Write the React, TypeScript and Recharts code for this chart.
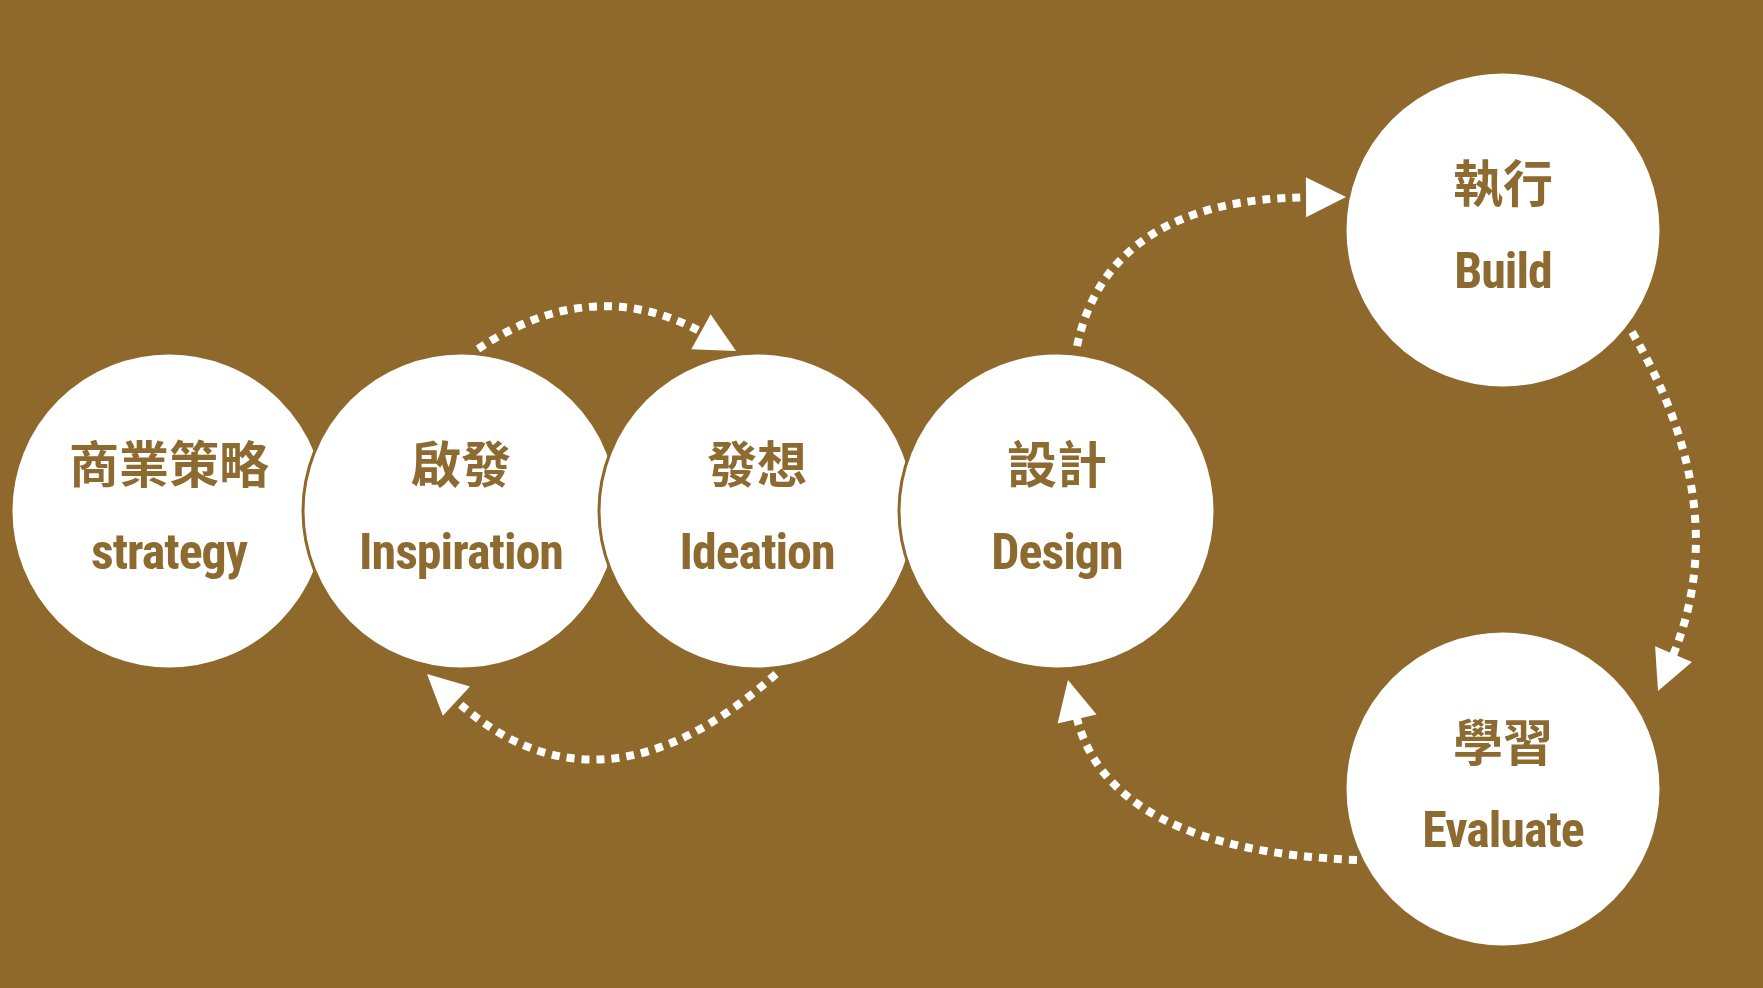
import { ScatterChart, Scatter, XAxis, YAxis } from "recharts";

const BG = "#8f692c";
const INK = "#8d6a2f";

// stage circles: centre in page pixels
const stageX = [169, 461, 757, 1057, 1503, 1503];
const stageY = [511, 511, 511, 511, 230, 789];
const stageZh = ["商業策略", "啟發", "發想", "設計", "執行", "學習"];
const stageEn = ["strategy", "Inspiration", "Ideation", "Design", "Build", "Evaluate"];

// dashed arrows: start, end and a point the curve passes through midway
const arrowFromX = [478, 776, 1077, 1632, 1357];
const arrowFromY = [349, 674, 346, 332, 860];
const arrowToX = [736, 427, 1346, 1658, 1068];
const arrowToY = [351, 674, 197, 691, 680];
const arrowMidX = [600, 600, 1160, 1690, 1160];
const arrowMidY = [311, 753, 235, 510, 810];

const stages = stageX.map((x, i) => ({ x, y: stageY[i], zh: stageZh[i], en: stageEn[i] }));
const arrows = arrowFromX.map((x, i) => ({
  x,
  y: arrowFromY[i],
  x2: arrowToX[i],
  y2: arrowToY[i],
  mx: arrowMidX[i],
  my: arrowMidY[i],
}));

const W = 1763;
const H = 988;

function StageShape(props: any) {
  const { cx, cy, payload } = props;
  return (
    <g>
      <circle cx={cx} cy={cy} r={158} fill="#fff" stroke={BG} strokeWidth={3} />
      <text
        x={cx}
        y={cy - 28}
        textAnchor="middle"
        fill={INK}
        fontSize={50}
        fontWeight={700}
        fontFamily="'Noto Sans CJK TC', sans-serif"
      >
        {payload.zh}
      </text>
      <text
        x={cx}
        y={cy + 58}
        textAnchor="middle"
        fill={INK}
        fontSize={50}
        fontWeight={700}
        fontFamily="'Liberation Sans Narrow', 'Roboto Condensed', sans-serif"
        letterSpacing={-1}
      >
        {payload.en}
      </text>
    </g>
  );
}

function ArrowShape(props: any) {
  const { cx, cy, payload } = props;
  // axes map data 1:1 to pixels, so offsets carry over directly
  const dx = cx - payload.x;
  const dy = cy - payload.y;
  const p0 = [cx, cy];
  const p2 = [payload.x2 + dx, payload.y2 + dy];
  const m = [payload.mx + dx, payload.my + dy];
  const c = [2 * m[0] - (p0[0] + p2[0]) / 2, 2 * m[1] - (p0[1] + p2[1]) / 2];
  let tx = p2[0] - c[0];
  let ty = p2[1] - c[1];
  const len = Math.hypot(tx, ty);
  tx /= len;
  ty /= len;
  const L = 40;
  const Wd = 20;
  const base = [p2[0] - tx * L, p2[1] - ty * L];
  const head = `M${p2[0]},${p2[1]} L${base[0] - ty * Wd},${base[1] + tx * Wd} L${base[0] + ty * Wd},${base[1] - tx * Wd} Z`;
  return (
    <g>
      <path
        d={`M${p0[0]},${p0[1]} Q${c[0]},${c[1]} ${base[0] + tx * 4},${base[1] + ty * 4}`}
        fill="none"
        stroke="#fff"
        strokeWidth={8}
        strokeDasharray="8 7"
      />
      <path d={head} fill="#fff" />
    </g>
  );
}

export default function App() {
  return (
    <div style={{ position: "fixed", left: 0, top: 0, width: W, height: H, background: BG }}>
      <ScatterChart width={W} height={H} margin={{ top: 0, right: 0, bottom: 0, left: 0 }}>
        <XAxis type="number" dataKey="x" domain={[0, W]} hide />
        <YAxis type="number" dataKey="y" domain={[0, H]} reversed hide />
        <Scatter data={arrows} shape={<ArrowShape />} isAnimationActive={false} />
        <Scatter data={stages} shape={<StageShape />} isAnimationActive={false} />
      </ScatterChart>
    </div>
  );
}
